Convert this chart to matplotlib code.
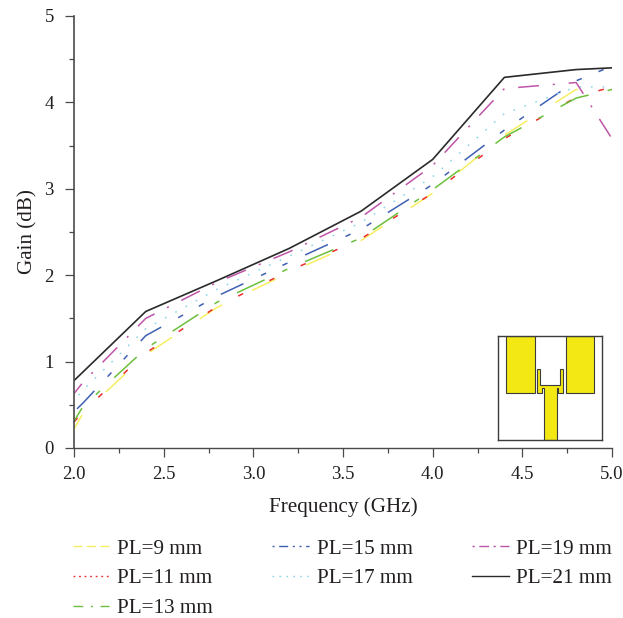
import matplotlib
matplotlib.use('Agg')
import matplotlib.pyplot as plt
from matplotlib.lines import Line2D
from matplotlib.patches import Polygon, Rectangle

plt.rcParams['font.family'] = ['Liberation Serif', 'DejaVu Serif']
plt.rcParams['lines.scale_dashes'] = False

freq = [2.0, 2.05, 2.4, 2.8, 3.2, 3.6, 4.0, 4.4, 4.8, 5.0]

pl_9 = [0.22, 0.40, 1.08, 1.63, 2.03, 2.40, 2.95, 3.62, 4.15, 4.15]
pl_11 = [0.30, 0.42, 1.10, 1.64, 2.05, 2.42, 2.95, 3.58, 4.06, 4.18]
pl_13 = [0.31, 0.48, 1.15, 1.69, 2.08, 2.43, 2.99, 3.60, 4.05, 4.15]
pl_15 = [0.42, 0.52, 1.30, 1.76, 2.15, 2.53, 3.05, 3.68, 4.25, 4.42]
pl_17 = [0.55, 0.67, 1.38, 1.84, 2.22, 2.61, 3.14, 3.87, 4.18, 4.18]
pl_19 = [0.63, 0.76, 1.50, 1.92, 2.27, 2.67, 3.27, 4.16, 4.23, 3.58]
pl_21 = [0.78, 0.88, 1.58, 1.94, 2.31, 2.74, 3.34, 4.29, 4.38, 4.40]

labels = ['PL=9 mm', 'PL=11 mm', 'PL=13 mm', 'PL=15 mm', 'PL=17 mm', 'PL=19 mm', 'PL=21 mm']
colors = ['#f6ee62', '#ee2c2c', '#6cbf3c', '#3f60b2', '#8ed6e8', '#bf55a8', '#2a2a2a']
series = [pl_9, pl_11, pl_13, pl_15, pl_17, pl_19, pl_21]

# dash patterns in points, the curves are much sparser than the legend keys
curve_styles = [
    (7.5, (19, 24)),
    (0, (4, 21)),
    (11, (22, 14, 4, 14)),
    (64, (18, 14, 4, 13, 4, 14)),
    (3.4, (1.2, 7.2)),
    (6, (15, 10, 1.5, 10)),
    '-',
]
legend_styles = [
    (0, (6.5, 3.2)),
    (0, (1.3, 2.7)),
    (0, (7, 5.5, 1.5, 5.5)),
    (14.6, (6.5, 3.3, 1.5, 3.3, 1.5, 3.3)),
    (0, (1.2, 3.8)),
    (10.2, (7, 3.2, 1.7, 3.2)),
    '-',
]

text_color = '#231f20'
spine_color = '#4a4a4a'

fig = plt.figure(figsize=(6.23, 6.18), dpi=100)
ax = fig.add_axes([74 / 623, 1 - 448 / 618, 538 / 623, 432 / 618])

for vals, col, st in zip(series, colors, curve_styles):
    ax.plot(freq, vals, color=col, linestyle=st, linewidth=1.1 if st != '-' else 1.2,
            dash_capstyle='butt')

ax.set_xlim(2, 5)
ax.set_ylim(0, 5)
ax.set_xticks([2.0, 2.5, 3.0, 3.5, 4.0, 4.5, 5.0])
ax.set_xticks([2.25, 2.75, 3.25, 3.75, 4.25, 4.75], minor=True)
ax.set_yticks([0, 1, 2, 3, 4, 5])
ax.set_yticks([0.5, 1.5, 2.5, 3.5, 4.5], minor=True)
ax.spines['top'].set_visible(False)
ax.spines['right'].set_visible(False)
ax.spines['left'].set_color(spine_color)
ax.spines['bottom'].set_color(spine_color)
ax.spines['left'].set_linewidth(1.2)
ax.spines['bottom'].set_linewidth(1.0)
ax.tick_params(which='major', length=6.5, width=0.9, color=spine_color, labelsize=13.5,
               labelcolor=text_color, pad=6.5)
ax.tick_params(axis='y', which='major', pad=8)
ax.tick_params(which='minor', length=3.4, width=0.9, color=spine_color)
ax.set_xlabel('Frequency (GHz)', fontsize=15.2, color=text_color, labelpad=10.5)
ax.set_ylabel('Gain (dB)', fontsize=15.2, color=text_color, labelpad=5)

handles = [Line2D([], [], color=c, linestyle=s, linewidth=1.0, dash_capstyle='butt')
           for c, s in zip(colors, legend_styles)]
leg = fig.legend(handles, labels, ncol=3, loc='upper left', bbox_to_anchor=(72.7 / 623, 1 - 539 / 618),
                 borderaxespad=0, borderpad=0, frameon=False, fontsize=15.2,
                 handlelength=1.73, handletextpad=0.365, columnspacing=2.82, labelspacing=0.47)
for t in leg.get_texts():
    t.set_color(text_color)

# antenna sketch, coordinates are pixels of the sketch box
ins = fig.add_axes([498 / 623, 1 - 440 / 618, 104 / 623, 104 / 618])
ins.set_xlim(0, 104)
ins.set_ylim(104, 0)
ins.set_xticks([])
ins.set_yticks([])
for s in ins.spines.values():
    s.set_color('#3c3c3c')
    s.set_linewidth(1.0)
patch_col = '#f3e814'
ins.add_patch(Rectangle((8.3, 0), 28.3, 56.7, fc=patch_col, ec='#3c3c3c', lw=0.8))
ins.add_patch(Rectangle((67.7, 0), 28.3, 56.7, fc=patch_col, ec='#3c3c3c', lw=0.8))
feed = [(39, 33), (42.3, 33), (42.3, 49.3), (61.7, 49.3), (61.7, 33), (65, 33), (65, 56.7),
        (60.3, 56.7), (60.3, 52.3), (59, 52.3), (59, 104), (45.7, 104), (45.7, 52.3),
        (43.7, 52.3), (43.7, 56.7), (39, 56.7)]
ins.add_patch(Polygon(feed, closed=True, fc=patch_col, ec='#3c3c3c', lw=0.8))

fig.savefig('out.png', dpi=100)
